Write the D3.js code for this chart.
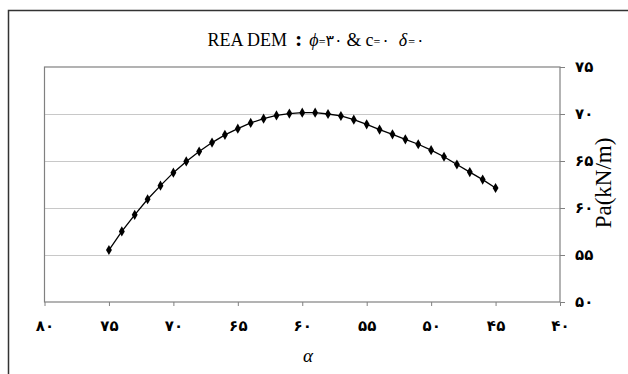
<!DOCTYPE html>
<html>
<head>
<meta charset="utf-8">
<script src="https://cdn.jsdelivr.net/npm/d3@7"></script>
<style>
  html, body { margin: 0; padding: 0; background: #fff; }
  svg { display: block; }
</style>
</head>
<body>
<svg id="chart" width="628" height="374"></svg>
<script>
// Wall inclination angle (degrees) and active thrust Pa (kN/m)
const alpha = [75, 74, 73, 72, 71, 70, 69, 68, 67, 66, 65, 64, 63, 62, 61, 60,
               59, 58, 57, 56, 55, 54, 53, 52, 51, 50, 49, 48, 47, 46, 45];
const pa = [55.53, 57.51, 59.27, 60.93, 62.38, 63.76, 64.95, 66.01, 66.96, 67.78,
            68.44, 69.05, 69.5, 69.85, 70.05, 70.14, 70.14, 70.0, 69.79, 69.4,
            68.9, 68.34, 67.84, 67.31, 66.78, 66.15, 65.45, 64.63, 63.82, 63.02, 62.13];
const xTicks = [80, 75, 70, 65, 60, 55, 50, 45, 40];
const yTicks = [50, 55, 60, 65, 70, 75];

const fa = n => String(n).replace(/[0-9]/g, d => "۰۱۲۳۴۵۶۷۸۹"[+d]);

const svg = d3.select("#chart");
const plot = { left: 44.5, right: 560, top: 67, bottom: 302 };

const x = d3.scaleLinear().domain([80, 40]).range([plot.left, plot.right]);
const y = d3.scaleLinear().domain([50, 75]).range([plot.bottom, plot.top]);

// outer chart frame
svg.append("rect")
  .attr("x", 8.5).attr("y", 10.5).attr("width", 700).attr("height", 500)
  .attr("fill", "none").attr("stroke", "#333").attr("stroke-width", 1.5);

// horizontal gridlines
svg.append("g").selectAll("line").data(yTicks.slice(1, -1)).join("line")
  .attr("x1", plot.left).attr("x2", plot.right)
  .attr("y1", d => Math.round(y(d)) + 0.5).attr("y2", d => Math.round(y(d)) + 0.5)
  .attr("stroke", "#c8c8c8").attr("stroke-width", 1.2);

// plot area border
svg.append("rect")
  .attr("x", plot.left).attr("y", plot.top)
  .attr("width", plot.right - plot.left).attr("height", plot.bottom - plot.top)
  .attr("fill", "none").attr("stroke", "#808080").attr("stroke-width", 1.2);

// Persian numerals, pulled slightly closer together
const tickFont = sel => sel
  .attr("font-family", "DejaVu Sans").attr("font-weight", "bold")
  .attr("font-size", 15).attr("fill", "#000")
  .attr("textLength", 18.5).attr("lengthAdjust", "spacing");

// x axis (reversed), ticks below
const xAxis = svg.append("g")
  .attr("transform", `translate(0,${plot.bottom})`)
  .call(d3.axisBottom(x).tickValues(xTicks).tickSize(4).tickPadding(14).tickFormat(fa));
xAxis.select(".domain").remove();
xAxis.selectAll(".tick line").attr("stroke", "#808080");
xAxis.selectAll(".tick text").call(tickFont);

// y axis on the right
const yAxis = svg.append("g")
  .attr("transform", `translate(${plot.right},0)`)
  .call(d3.axisRight(y).tickValues(yTicks).tickSize(5).tickPadding(10).tickFormat(fa));
yAxis.select(".domain").remove();
yAxis.selectAll(".tick line").attr("stroke", "#808080");
yAxis.selectAll(".tick text").call(tickFont);

// data line and markers
const pts = alpha.map((a, i) => [a, pa[i]]);
svg.append("path")
  .datum(pts)
  .attr("fill", "none").attr("stroke", "#000").attr("stroke-width", 1.3)
  .attr("d", d3.line().x(d => x(d[0])).y(d => y(d[1])));

svg.append("g").selectAll("path").data(pts).join("path")
  .attr("transform", d => `translate(${x(d[0])},${y(d[1])})`)
  .attr("d", d3.symbol().type(d3.symbolDiamond).size(30))
  .attr("fill", "#000");

// title
const title = svg.append("text")
  .attr("x", 316).attr("y", 46)
  .attr("text-anchor", "middle")
  .attr("font-family", "Liberation Serif").attr("fill", "#000");
title.append("tspan").attr("font-size", 18).text("REA DEM");
title.append("tspan").attr("font-size", 22).attr("font-weight", "bold").attr("dx", 8).text(":");
title.append("tspan").attr("font-size", 18).attr("font-style", "italic").attr("dx", 7).text("ϕ");
title.append("tspan").attr("font-size", 12).text("=");
title.append("tspan").attr("font-size", 16).attr("font-family", "DejaVu Sans").text(fa(30));
title.append("tspan").attr("font-size", 19).attr("dx", 4).text("&");
title.append("tspan").attr("font-size", 18).attr("dx", 4).text("c");
title.append("tspan").attr("font-size", 12).text("=");
title.append("tspan").attr("font-size", 16).attr("font-family", "DejaVu Sans").attr("dx", 1).text(fa(0));
title.append("tspan").attr("font-size", 18).attr("font-style", "italic").attr("dx", 9).text("δ");
title.append("tspan").attr("font-size", 12).attr("dx", 1).text("=");
title.append("tspan").attr("font-size", 16).attr("font-family", "DejaVu Sans").attr("dx", 1).text(fa(0));

// axis titles
svg.append("text")
  .attr("transform", "translate(611,183) rotate(-90)")
  .attr("text-anchor", "middle")
  .attr("font-family", "Liberation Serif").attr("font-size", 23)
  .attr("fill", "#000").text("Pa(kN/m)");

svg.append("text")
  .attr("x", 308).attr("y", 362)
  .attr("text-anchor", "middle")
  .attr("font-family", "Liberation Serif").attr("font-style", "italic")
  .attr("font-size", 19).attr("fill", "#000").text("α");
</script>
</body>
</html>
